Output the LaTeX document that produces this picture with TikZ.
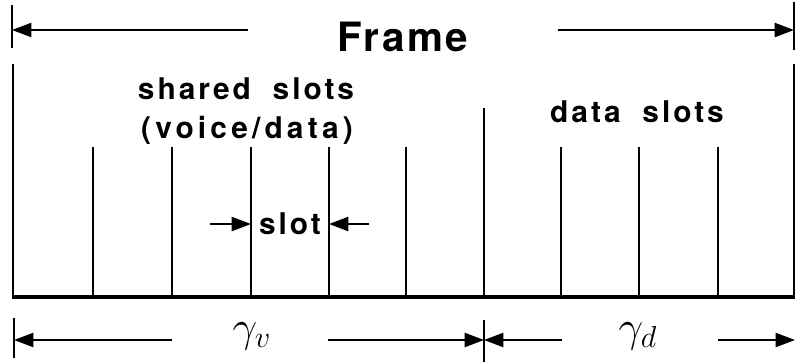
\documentclass[tikz,border=0pt]{standalone}
\usepackage{fontspec}
\setmainfont{TeX Gyre Heros}
\usetikzlibrary{arrows.meta}

\begin{document}
\begin{tikzpicture}[
  x=0.02cm, y=-0.02cm,
  line cap=butt, line join=miter,
  >={Triangle[length=11pt,width=8pt]},
  wall/.style={draw=black, line width=1.7pt},
  base/.style={draw=black, line width=2.6pt},
  slotline/.style={draw=black, line width=1.1pt},
  dim/.style={draw=black, line width=1.2pt, ->},
  tick/.style={draw=black, line width=1.3pt},
  lbl/.style={inner sep=0pt, font=\bfseries\fontsize{17}{20}\selectfont\addfontfeature{LetterSpace=10}},
  big/.style={inner sep=0pt, font=\bfseries\fontsize{23}{26}\selectfont\addfontfeature{LetterSpace=6}},
  sym/.style={inner sep=0pt, font=\fontsize{27}{30}\selectfont}
]
\useasboundingbox (0,0) rectangle (795,363);

% Top: the whole frame with its span arrows.
\node[big] (frame) at (403,37) {Frame};
\draw[tick] (12,5) coordinate (tTL) -- (12,48);
\draw[tick] (794,2) coordinate (tTR) -- (794,50);
\coordinate (fL) at (248,30);
\coordinate (fR) at (558,30);
\draw[dim] (fL) -- (tTL |- fL);
\draw[dim] (fR) -- (tTR |- fR);

% Frame body: walls, base and slot boundaries.
\draw[wall] (13,64) coordinate (wL) -- (13,297);
\draw[wall] (794,64) coordinate (wR) -- (794,297);
\draw[base] (12,297) coordinate (bL) -- (795,297) coordinate (bR);
\foreach \x/\n in {93/1,172/2,251/3,329/4,406/5,561/6,639/7,718/8}
  \draw[slotline] (\x,147) coordinate (t\n) -- (\x,297) coordinate (b\n);
\draw[slotline] (484,108) coordinate (tm) -- (484,297) coordinate (bm);

\node[lbl] (shared) at (246,89) {shared\hspace{0.35em} slots};
\node[lbl, font=\bfseries\fontsize{17}{20}\selectfont\addfontfeature{LetterSpace=14}] (voice) at (247,130) {(voice/data)};
\node[lbl] (data) at (637,112) {data\hspace{0.35em} slots};

% One slot width.
\node[lbl] (slot) at (290,224) {slot};
\coordinate (sL) at (210,224);
\coordinate (sR) at (369,224);
\draw[dim] (sL) -- (t3 |- slot);
\draw[dim] (sR) -- (t4 |- slot);

% Bottom: voice and data spans.
\node[sym] (gv) at (252,336) {$\gamma_v$};
\node[sym] (gd) at (638,336) {$\gamma_d$};
\draw[tick] (14,318) coordinate (tBL) -- (14,358);
\draw[tick] (484,320) coordinate (tBM) -- (484,362);
\coordinate (vL) at (172,340);
\coordinate (vR) at (328,340);
\coordinate (dL) at (562,340);
\coordinate (dR) at (718,340);
\draw[dim] (vL) -- (tBL |- vL);
\draw[dim] (vR) -- (tBM |- vR);
\draw[dim] (dL) -- (tBM |- dL);
\draw[dim] (dR) -- (795,340);
\end{tikzpicture}
\end{document}
